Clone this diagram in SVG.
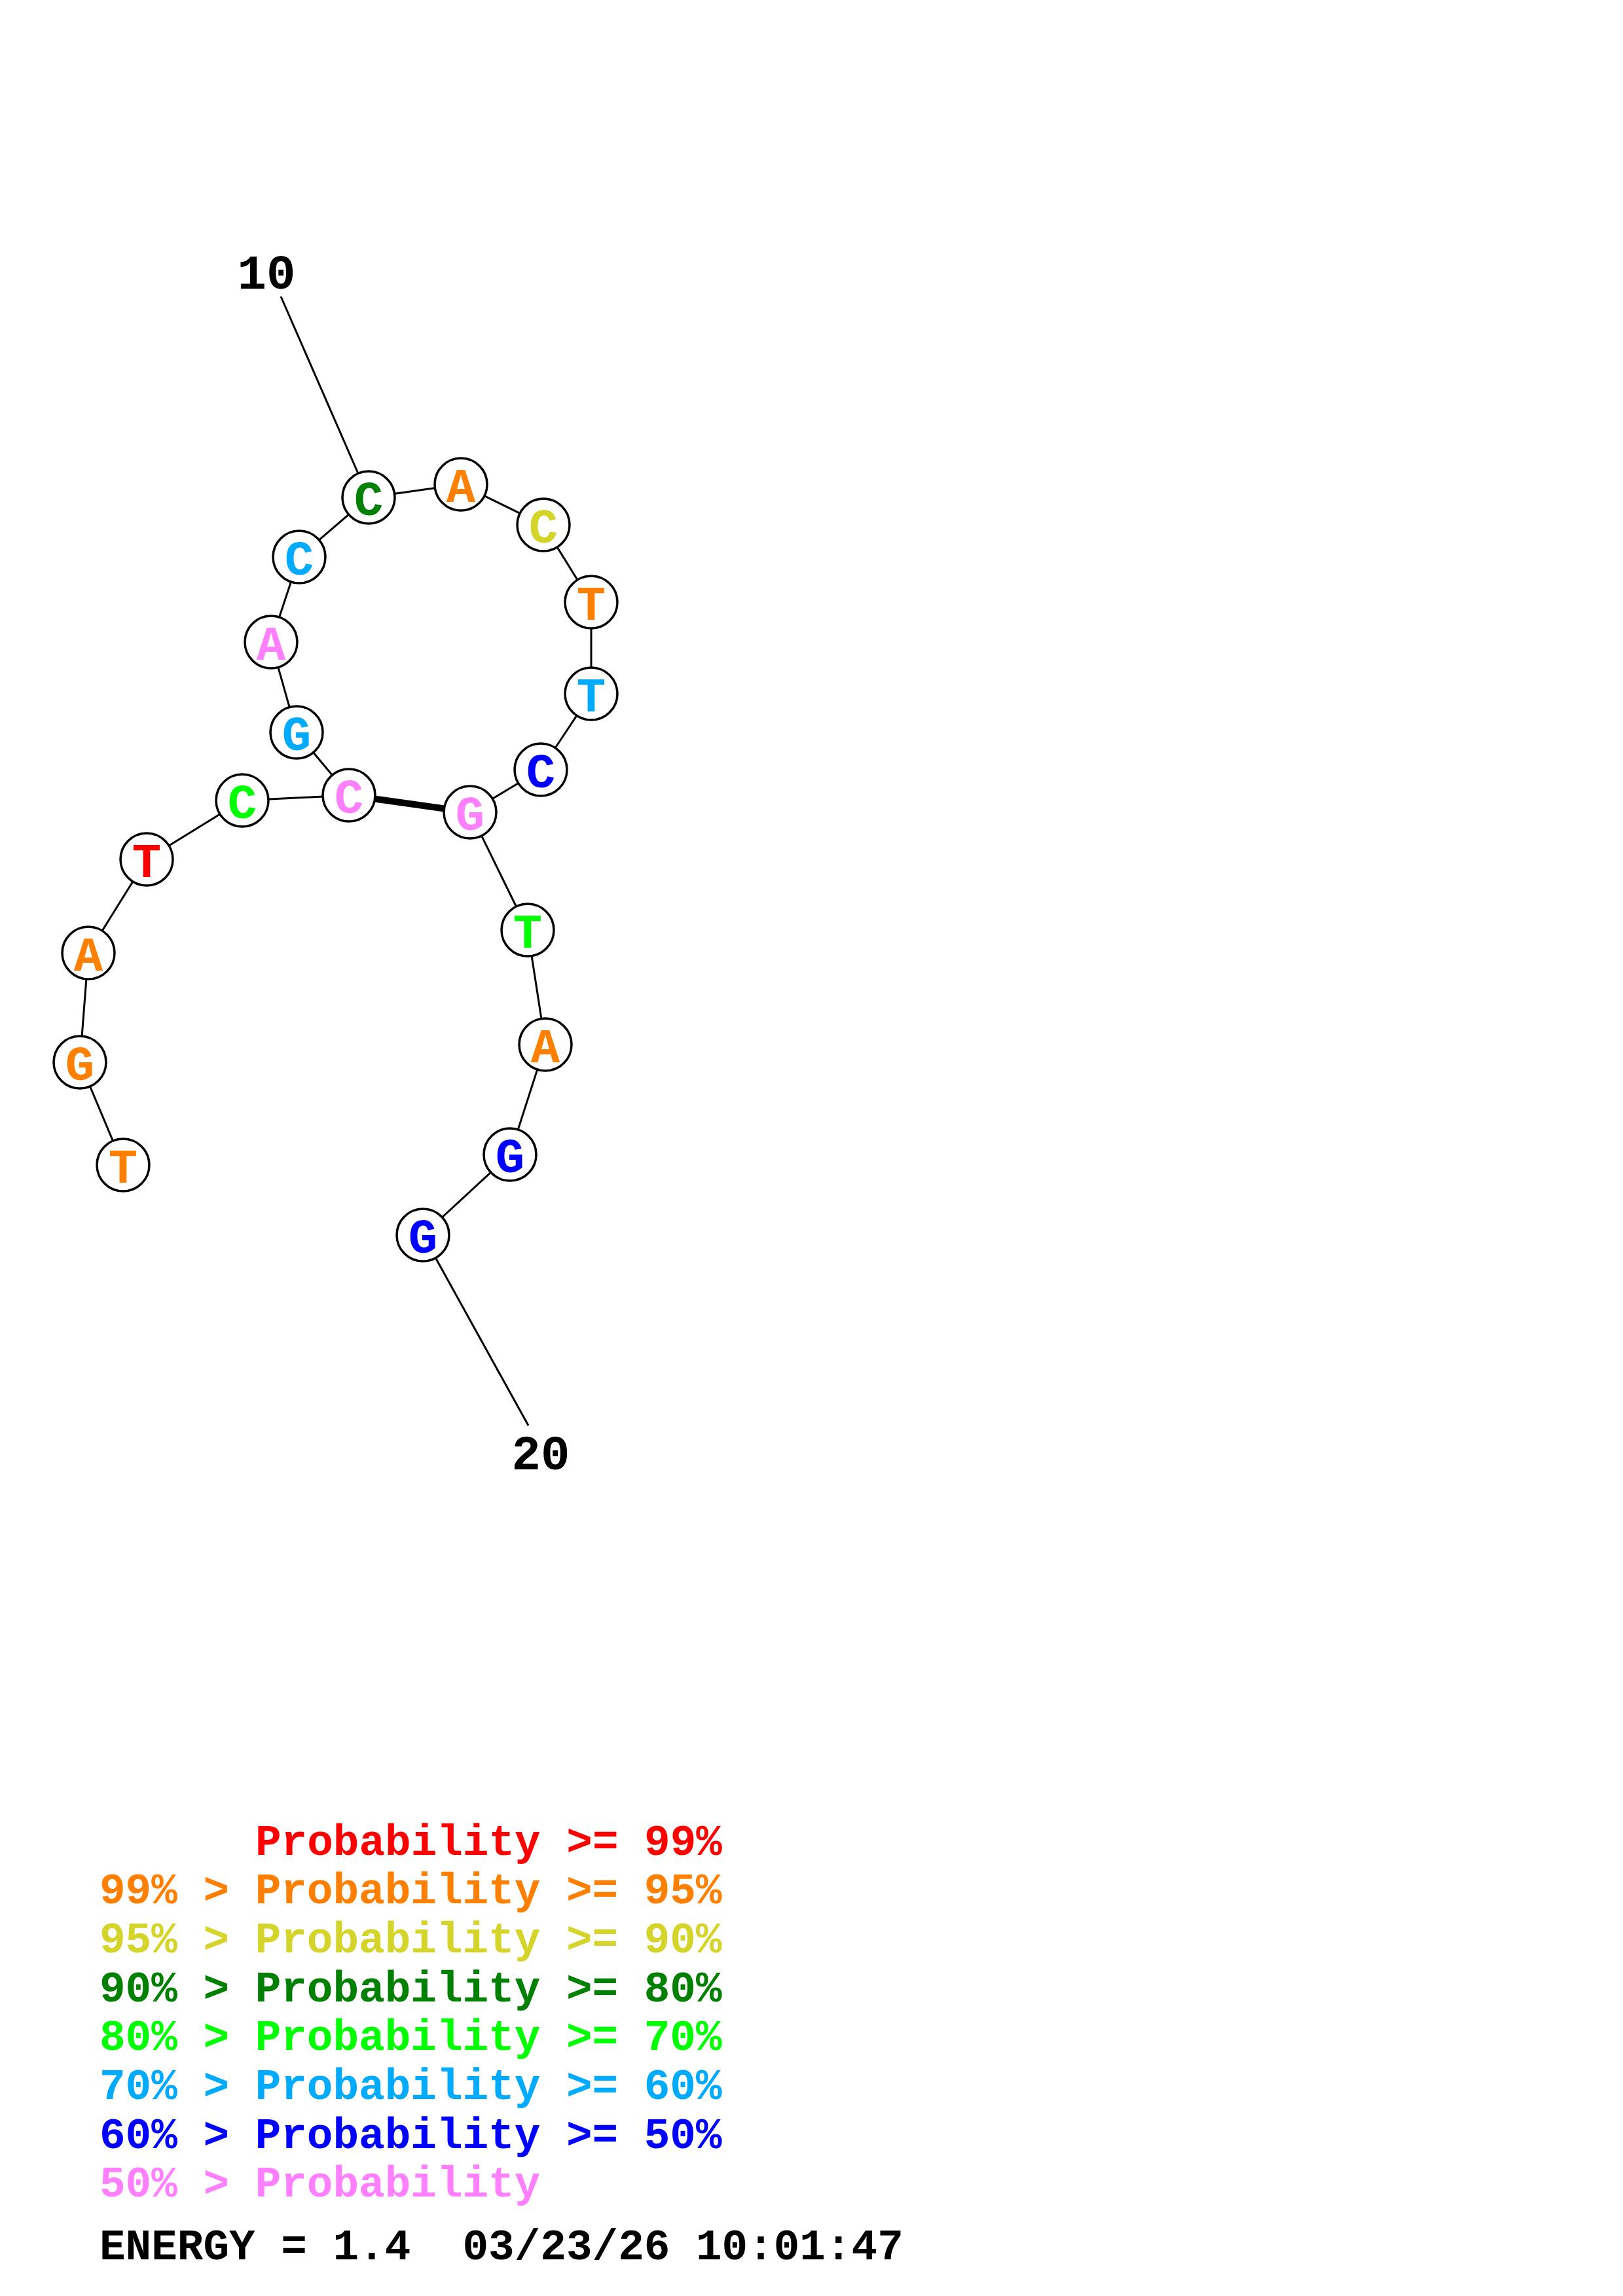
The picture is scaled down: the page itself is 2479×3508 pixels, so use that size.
<svg xmlns="http://www.w3.org/2000/svg" width="2479" height="3508" viewBox="0 0 2479 3508">
<style>
.bb{stroke:#000;stroke-width:3;fill:none}
.bp{stroke:#000;stroke-width:10;fill:none}
.nd circle{fill:#fff;stroke:#000;stroke-width:3.5}
.nd text{font-family:"Liberation Mono","Courier New",monospace;font-weight:bold;font-size:74px;text-anchor:middle}
.num{font-family:"Liberation Mono","Courier New",monospace;font-weight:bold;font-size:74px;text-anchor:middle;fill:#000}
.lg{font-family:"Liberation Mono","Courier New",monospace;font-weight:bold;font-size:66px}
.r{fill:#ff0000}.o{fill:#ff8000}.y{fill:#d4d42a}.dg{fill:#008000}.g{fill:#00ff00}.lb{fill:#00aaff}.b{fill:#0000ff}.p{fill:#ff80ff}.k{fill:#000}
</style>
<rect width="2479" height="3508" fill="#fff"/>
<g id="connectors">
<polyline class="bb" points="188,1780 122,1623 135,1456 224,1313 370,1223 533,1215 453,1119 414,981 457,851 563,760 704,740 830,802 903,920 903,1060 826,1176 718,1241 806,1421 833,1596 779,1764 646,1887"/>
<line class="bp" x1="533" y1="1215" x2="718" y2="1241"/>
<line class="bb" x1="429" y1="453" x2="563" y2="760"/>
<line class="bb" x1="646" y1="1887" x2="807" y2="2178"/>
</g>
<g id="n1" class="nd"><circle cx="188" cy="1780" r="40"/><text x="188" y="1807" class="o">T</text></g>
<g id="n2" class="nd"><circle cx="122" cy="1623" r="40"/><text x="122" y="1650" class="o">G</text></g>
<g id="n3" class="nd"><circle cx="135" cy="1456" r="40"/><text x="135" y="1483" class="o">A</text></g>
<g id="n4" class="nd"><circle cx="224" cy="1313" r="40"/><text x="224" y="1340" class="r">T</text></g>
<g id="n5" class="nd"><circle cx="370" cy="1223" r="40"/><text x="370" y="1250" class="g">C</text></g>
<g id="n6" class="nd"><circle cx="533" cy="1215" r="40"/><text x="533" y="1242" class="p">C</text></g>
<g id="n7" class="nd"><circle cx="453" cy="1119" r="40"/><text x="453" y="1146" class="lb">G</text></g>
<g id="n8" class="nd"><circle cx="414" cy="981" r="40"/><text x="414" y="1008" class="p">A</text></g>
<g id="n9" class="nd"><circle cx="457" cy="851" r="40"/><text x="457" y="878" class="lb">C</text></g>
<g id="n10" class="nd"><circle cx="563" cy="760" r="40"/><text x="563" y="787" class="dg">C</text></g>
<g id="n11" class="nd"><circle cx="704" cy="740" r="40"/><text x="704" y="767" class="o">A</text></g>
<g id="n12" class="nd"><circle cx="830" cy="802" r="40"/><text x="830" y="829" class="y">C</text></g>
<g id="n13" class="nd"><circle cx="903" cy="920" r="40"/><text x="903" y="947" class="o">T</text></g>
<g id="n14" class="nd"><circle cx="903" cy="1060" r="40"/><text x="903" y="1087" class="lb">T</text></g>
<g id="n15" class="nd"><circle cx="826" cy="1176" r="40"/><text x="826" y="1203" class="b">C</text></g>
<g id="n16" class="nd"><circle cx="718" cy="1241" r="40"/><text x="718" y="1268" class="p">G</text></g>
<g id="n17" class="nd"><circle cx="806" cy="1421" r="40"/><text x="806" y="1448" class="g">T</text></g>
<g id="n18" class="nd"><circle cx="833" cy="1596" r="40"/><text x="833" y="1623" class="o">A</text></g>
<g id="n19" class="nd"><circle cx="779" cy="1764" r="40"/><text x="779" y="1791" class="b">G</text></g>
<g id="n20" class="nd"><circle cx="646" cy="1887" r="40"/><text x="646" y="1914" class="b">G</text></g>
<g id="labels">
<text class="num" x="407" y="441">10</text>
<text class="num" x="826" y="2245">20</text>
</g>
<g id="legend" class="lg">
<text x="390" y="2834" class="r">Probability &gt;= 99%</text>
<text x="152" y="2908" class="o">99% &gt; Probability &gt;= 95%</text>
<text x="152" y="2983" class="y">95% &gt; Probability &gt;= 90%</text>
<text x="152" y="3058" class="dg">90% &gt; Probability &gt;= 80%</text>
<text x="152" y="3132" class="g">80% &gt; Probability &gt;= 70%</text>
<text x="152" y="3207" class="lb">70% &gt; Probability &gt;= 60%</text>
<text x="152" y="3282" class="b">60% &gt; Probability &gt;= 50%</text>
<text x="152" y="3356" class="p">50% &gt; Probability</text>
<text x="152" y="3452" class="k" xml:space="preserve">ENERGY = 1.4  03/23/26 10:01:47</text>
</g>
</svg>
